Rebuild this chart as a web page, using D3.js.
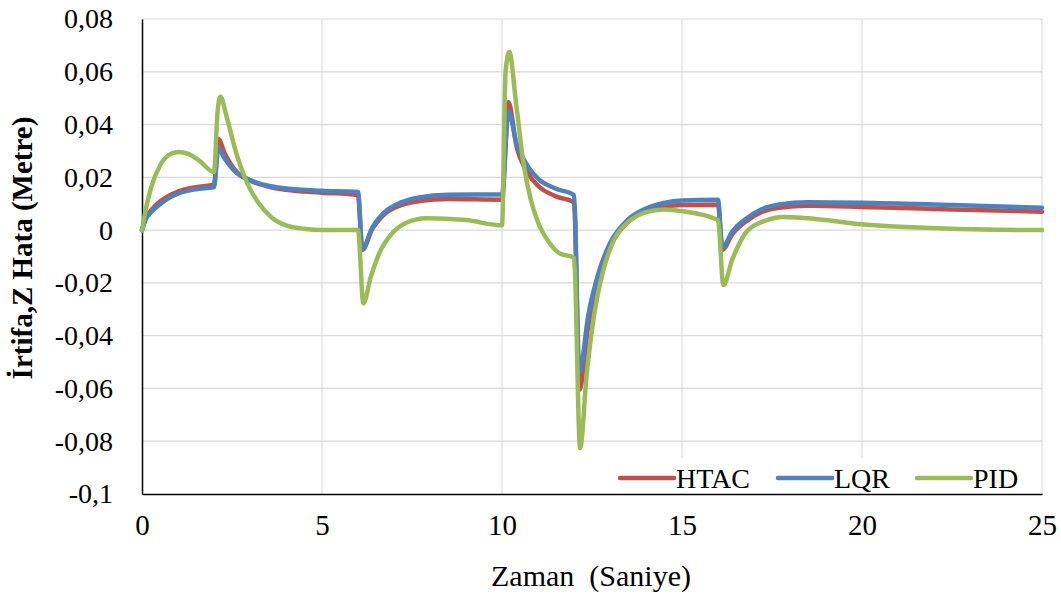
<!DOCTYPE html>
<html>
<head>
<meta charset="utf-8">
<script src="https://cdn.jsdelivr.net/npm/d3@7"></script>
</head>
<body style="margin:0">
<svg id="chart" width="1061" height="599" style="font-family: 'Liberation Serif', Tinos, 'Times New Roman', serif"></svg>
<script>
// ---- data ----
const seriesNames = ["HTAC", "LQR", "PID"];
const seriesColors = ["#C0504D", "#4F81BD", "#9BBB59"];

const xTicks = [0, 5, 10, 15, 20, 25];
const yTicks = [-0.1, -0.08, -0.06, -0.04, -0.02, 0, 0.02, 0.04, 0.06, 0.08];
const yTickLabels = ["-0,1", "-0,08", "-0,06", "-0,04", "-0,02", "0", "0,02", "0,04", "0,06", "0,08"];

const ctrlTime = [0, 0.1, 0.25, 0.5, 0.75, 1.0, 1.5, 2.0, 2.12, 2.3, 2.6, 3.0, 3.5, 4.0, 5.0, 6.0,
  6.12, 6.4, 6.8, 7.2, 7.7, 8.5, 10.0, 10.18, 10.4, 10.7, 11.0, 11.5, 12.0,
  12.15, 12.4, 12.7, 13.0, 13.5, 14.0, 14.5, 15.0, 16.0,
  16.12, 16.4, 16.8, 17.2, 17.7, 18.5, 20, 22.5, 25];

const htacValues = [0, 0.0045, 0.0075, 0.0108, 0.013, 0.0146, 0.0163, 0.0172, 0.0345, 0.029, 0.0225, 0.0188, 0.0165, 0.0153, 0.0142, 0.0133,
  -0.0075, 0.0005, 0.0068, 0.0095, 0.011, 0.0118, 0.0115, 0.0485, 0.032, 0.022, 0.0168, 0.0128, 0.0105,
  -0.0605, -0.036, -0.018, -0.0065, 0.003, 0.0072, 0.0088, 0.0095, 0.0096,
  -0.0075, -0.0015, 0.0035, 0.0068, 0.0085, 0.0092, 0.0088, 0.0078, 0.007];

const lqrValues = [0, 0.004, 0.0068, 0.0098, 0.0122, 0.0138, 0.0155, 0.0163, 0.031, 0.027, 0.022, 0.019, 0.0168, 0.0158, 0.0149, 0.0144,
  -0.007, 0.001, 0.0075, 0.0105, 0.0124, 0.0134, 0.0135, 0.045, 0.033, 0.0245, 0.0195, 0.0157, 0.0133,
  -0.054, -0.032, -0.0155, -0.005, 0.004, 0.0082, 0.0103, 0.0112, 0.0115,
  -0.0065, -0.0005, 0.0045, 0.0078, 0.0097, 0.0106, 0.0104, 0.0095, 0.0085];

const pidTime = [0, 0.1, 0.25, 0.5, 0.75, 1.0, 1.3, 1.6, 2.0, 2.1, 2.18, 2.35, 2.6, 2.9, 3.2, 3.6, 4.0, 4.5, 5.0, 6.0,
  6.15, 6.35, 6.6, 6.9, 7.3, 7.9, 9.0, 10.0,
  10.1, 10.2, 10.4, 10.6, 10.8, 11.0, 11.3, 11.6, 12.0,
  12.17, 12.35, 12.55, 12.8, 13.1, 13.5, 14.0, 14.5, 15.0, 16.0,
  16.15, 16.4, 16.8, 17.3, 17.8, 18.5, 20, 22.5, 25];

const pidValues = [0, 0.0075, 0.016, 0.0245, 0.0285, 0.0296, 0.0288, 0.0262, 0.022, 0.045, 0.0505, 0.043, 0.03, 0.0185, 0.011, 0.0048, 0.0018, 0.0005, 0.0, 0.0,
  -0.0278, -0.018, -0.0085, -0.002, 0.0025, 0.0045, 0.0038, 0.0018,
  0.06, 0.0675, 0.047, 0.025, 0.0115, 0.003, -0.0045, -0.0088, -0.0105,
  -0.0826, -0.055, -0.033, -0.016, -0.004, 0.003, 0.0068, 0.0078, 0.0072, 0.0038,
  -0.0208, -0.011, -0.0005, 0.0035, 0.005, 0.0045, 0.0022, 0.0005, 0.0];

const xTitle = "Zaman  (Saniye)";
const yTitle = "İrtifa,Z Hata (Metre)";

// ---- layout ----
const svg = d3.select("#chart");
const mLeft = 142, mRight = 1042, mTop = 19, mBottom = 494;

const x = d3.scaleLinear().domain([0, 25]).range([mLeft, mRight]);
const y = d3.scaleLinear().domain([-0.1, 0.08]).range([mBottom, mTop]);

// gridlines
svg.append("g").selectAll("line").data(yTicks.filter(v => v > -0.1)).join("line")
  .attr("x1", mLeft).attr("x2", mRight)
  .attr("y1", d => y(d)).attr("y2", d => y(d))
  .attr("stroke", "#d9d9d9").attr("stroke-width", 1.2);
svg.append("g").selectAll("line").data(xTicks.filter(v => v > 0)).join("line")
  .attr("x1", d => x(d)).attr("x2", d => x(d))
  .attr("y1", mTop).attr("y2", mBottom)
  .attr("stroke", "#d9d9d9").attr("stroke-width", 1.2);

// axes
const xAxis = d3.axisBottom(x).tickValues(xTicks).tickSize(0).tickPadding(20).tickFormat(d3.format("d"));
const gx = svg.append("g").attr("transform", `translate(0,${mBottom})`).call(xAxis);
gx.attr("font-family", null).attr("font-size", null);
gx.select(".domain").attr("stroke", "#000").attr("stroke-width", 1.5);
gx.selectAll("text").attr("fill", "#000").style("font-family", '"Liberation Serif"').style("font-size", "29px");

const yAxis = d3.axisLeft(y).tickValues(yTicks).tickSize(0).tickPadding(29)
  .tickFormat((d, i) => yTickLabels[i]);
const gy = svg.append("g").attr("transform", `translate(${mLeft},0)`).call(yAxis);
gy.attr("font-family", null).attr("font-size", null);
gy.select(".domain").attr("stroke", "#000").attr("stroke-width", 1.5);
gy.selectAll("text").attr("fill", "#000").style("font-family", "Tinos").style("font-size", "28px");

// lines
const series = [
  { name: seriesNames[0], t: ctrlTime, v: htacValues, color: seriesColors[0] },
  { name: seriesNames[1], t: ctrlTime, v: lqrValues, color: seriesColors[1] },
  { name: seriesNames[2], t: pidTime, v: pidValues, color: seriesColors[2] }
];
const line = d3.line().x(d => x(d[0])).y(d => y(d[1])).curve(d3.curveMonotoneX);
svg.append("g").selectAll("path").data(series).join("path")
  .attr("d", s => line(s.t.map((t, i) => [t, s.v[i]])))
  .attr("fill", "none")
  .attr("stroke", s => s.color)
  .attr("stroke-width", 4.5)
  .attr("stroke-linejoin", "round")
  .attr("stroke-linecap", "round");

// legend
const legendItems = [
  { x0: 620, name: seriesNames[0], color: seriesColors[0] },
  { x0: 778, name: seriesNames[1], color: seriesColors[1] },
  { x0: 917, name: seriesNames[2], color: seriesColors[2] }
];
const lg = svg.append("g");
lg.append("rect").attr("x", 612).attr("y", 458).attr("width", 415).attr("height", 35).attr("fill", "#fff");
legendItems.forEach(it => {
  lg.append("line").attr("x1", it.x0).attr("x2", it.x0 + 54)
    .attr("y1", 478).attr("y2", 478)
    .attr("stroke", it.color).attr("stroke-width", 4.5).attr("stroke-linecap", "round");
  lg.append("text").attr("x", it.x0 + 56).attr("y", 488).attr("fill", "#000")
    .style("font-family", '"Times New Roman"').style("font-size", "28px").text(it.name);
});

// titles
svg.append("text").attr("x", 591).attr("y", 586).attr("text-anchor", "middle").attr("fill", "#000")
  .style("font-size", "30px").style("white-space", "pre").text(xTitle);
svg.append("text").attr("transform", "translate(32,248) rotate(-90)").attr("text-anchor", "middle").attr("fill", "#000")
  .style("font-family", "'Liberation Serif', serif").style("font-size", "29px").style("font-weight", "bold").text(yTitle);
</script>
</body>
</html>
